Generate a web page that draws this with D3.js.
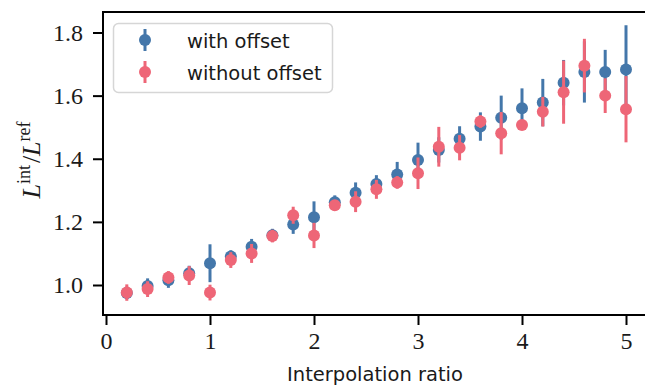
<!DOCTYPE html>
<html>
<head>
<meta charset="utf-8">
<script src="https://cdn.jsdelivr.net/npm/d3@7"></script>
<style>
  html, body { margin: 0; padding: 0; background: #fff; }
  svg { display: block; }
</style>
</head>
<body>
<div id="chart"></div>
<script>
// interpolation ratio on x, L^int / L^ref on y
const ratios = [0.2, 0.4, 0.6, 0.8, 1.0, 1.2, 1.4, 1.6, 1.8, 2.0, 2.2, 2.4, 2.6,
                2.8, 3.0, 3.2, 3.4, 3.6, 3.8, 4.0, 4.2, 4.4, 4.6, 4.8, 5.0];

const withOffset = [0.975, 0.997, 1.015, 1.037, 1.069, 1.090, 1.121, 1.158, 1.192, 1.215,
                    1.262, 1.292, 1.320, 1.350, 1.396, 1.428, 1.463, 1.502, 1.530, 1.560,
                    1.578, 1.641, 1.675, 1.675, 1.683];
const withOffsetErr = [0.020, 0.024, 0.024, 0.024, 0.060, 0.020, 0.025, 0.020, 0.030, 0.050,
                       0.022, 0.033, 0.028, 0.040, 0.055, 0.040, 0.040, 0.045, 0.070, 0.063,
                       0.075, 0.072, 0.097, 0.070, 0.140];

const withoutOffset = [0.976, 0.987, 1.024, 1.030, 0.976, 1.079, 1.100, 1.155, 1.221, 1.157,
                       1.253, 1.264, 1.303, 1.325, 1.354, 1.438, 1.435, 1.518, 1.481, 1.507,
                       1.549, 1.611, 1.695, 1.600, 1.557];
const withoutOffsetErr = [0.026, 0.025, 0.020, 0.030, 0.025, 0.025, 0.030, 0.020, 0.027, 0.040,
                          0.015, 0.033, 0.030, 0.020, 0.050, 0.063, 0.040, 0.020, 0.067, 0.015,
                          0.047, 0.100, 0.085, 0.055, 0.105];

const xTicks = [0, 1, 2, 3, 4, 5];
const yTicks = [1.0, 1.2, 1.4, 1.6, 1.8];
const seriesNames = ['with offset', 'without offset'];
const seriesColors = ['#4477AA', '#EE6677'];

const W = 645, H = 386;
const frame = { left: 103, top: 12, right: 648, bottom: 315 };

const svg = d3.select('#chart').append('svg')
    .attr('width', W)
    .attr('height', H);

const x = d3.scaleLinear().domain([0, 5]).range([106, 626]);
const y = d3.scaleLinear().domain([1.0, 1.8]).range([285, 32.5]);

const serif = 'Liberation Serif, DejaVu Serif, serif';
const sans = 'DejaVu Sans, sans-serif';

// axes
const xAxis = svg.append('g')
    .attr('transform', `translate(0,${frame.bottom})`)
    .call(d3.axisBottom(x).tickValues(xTicks).tickFormat(d3.format('d')).tickSize(10).tickPadding(7));
const yAxis = svg.append('g')
    .attr('transform', `translate(${frame.left},0)`)
    .call(d3.axisLeft(y).tickValues(yTicks).tickFormat(d3.format('.1f')).tickSize(10).tickPadding(10));

[xAxis, yAxis].forEach(g => {
    g.select('.domain').remove();
    g.selectAll('.tick line').attr('stroke', '#000').attr('stroke-width', 2);
    g.selectAll('.tick text')
        .attr('fill', '#1a1a1a')
        .style('font-family', serif)
        .style('font-size', '24px');
});

// data
const series = [
    { name: seriesNames[0], color: seriesColors[0], vals: withOffset, errs: withOffsetErr },
    { name: seriesNames[1], color: seriesColors[1], vals: withoutOffset, errs: withoutOffsetErr }
];

series.forEach(s => {
    const pts = ratios.map((r, i) => ({ r, v: s.vals[i], e: s.errs[i] }));
    const g = svg.append('g');
    g.selectAll('line')
        .data(pts)
        .enter().append('line')
        .attr('x1', d => x(d.r))
        .attr('x2', d => x(d.r))
        .attr('y1', d => y(d.v - d.e))
        .attr('y2', d => y(d.v + d.e))
        .attr('stroke', s.color)
        .attr('stroke-width', 3);
    g.selectAll('circle')
        .data(pts)
        .enter().append('circle')
        .attr('cx', d => x(d.r))
        .attr('cy', d => y(d.v))
        .attr('r', 6)
        .attr('fill', s.color);
});

// frame (right side is off the canvas)
svg.append('path')
    .attr('d', `M${frame.right},${frame.top}H${frame.left}V${frame.bottom}H${frame.right}`)
    .attr('fill', 'none')
    .attr('stroke', '#000')
    .attr('stroke-width', 2);

// legend
const legend = svg.append('g');
legend.append('rect')
    .attr('x', 113.5).attr('y', 23.5)
    .attr('width', 219).attr('height', 69)
    .attr('rx', 5)
    .attr('fill', '#fff').attr('fill-opacity', 0.8)
    .attr('stroke', '#d6d6d6').attr('stroke-width', 1.5);

series.forEach((s, i) => {
    const cy = 40 + i * 32;
    legend.append('line')
        .attr('x1', 145).attr('x2', 145)
        .attr('y1', cy - 11).attr('y2', cy + 11)
        .attr('stroke', s.color).attr('stroke-width', 3);
    legend.append('circle')
        .attr('cx', 145).attr('cy', cy).attr('r', 6)
        .attr('fill', s.color);
    legend.append('text')
        .attr('x', 187).attr('y', cy + 7.5)
        .attr('font-family', sans)
        .attr('font-size', 19.5)
        .attr('fill', '#1a1a1a')
        .text(s.name);
});

// axis labels
svg.append('text')
    .attr('x', 375).attr('y', 381)
    .attr('text-anchor', 'middle')
    .attr('font-family', sans)
    .attr('font-size', 19.5)
    .attr('fill', '#1a1a1a')
    .text('Interpolation ratio');

const yl = svg.append('text')
    .attr('transform', 'translate(40,160) rotate(-90)')
    .attr('text-anchor', 'middle')
    .attr('font-family', serif)
    .attr('font-size', 26)
    .attr('fill', '#1a1a1a');
yl.append('tspan').attr('font-style', 'italic').text('L');
yl.append('tspan').attr('dy', -10).attr('font-size', 18).text('int');
yl.append('tspan').attr('dy', 10).attr('dx', 2).text('/');
yl.append('tspan').attr('font-style', 'italic').text('L');
yl.append('tspan').attr('dy', -10).attr('font-size', 18).text('ref');
</script>
</body>
</html>
